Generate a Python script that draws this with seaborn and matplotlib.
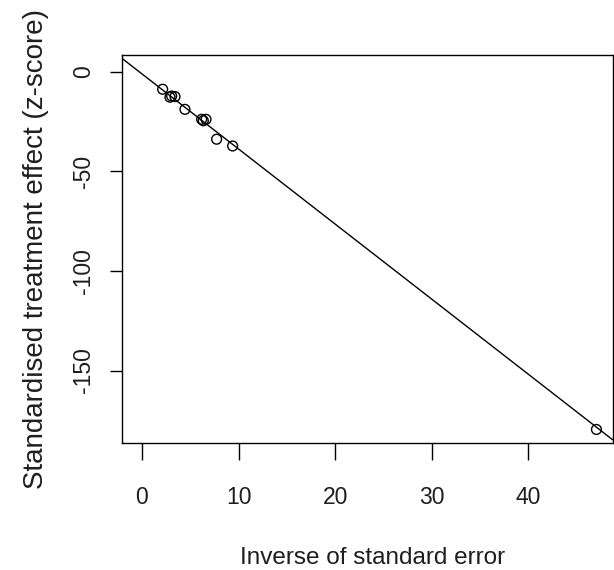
import matplotlib.pyplot as plt
import seaborn as sns
import pandas as pd

# Galbraith-style plot: z-score vs precision
inv_se = [2.14, 2.9, 3.07, 3.42, 4.45, 6.18, 6.35, 6.63, 7.73, 9.39, 47.07]
z_score = [-8.7, -12.7, -12.1, -12.4, -18.8, -23.8, -24.5, -23.8, -33.8, -37.2, -179.6]
fit_intercept = -1.0
fit_slope = -3.77

x_ticks = [0, 10, 20, 30, 40]
y_ticks = [0, -50, -100, -150]

sns.set_style("ticks")
plt.rcParams['font.family'] = ['Liberation Sans', 'DejaVu Sans']
plt.rcParams['axes.unicode_minus'] = False
txt = '#1e1e1e'

df = pd.DataFrame({'inv_se': inv_se, 'z': z_score})

fig = plt.figure(figsize=(6.14, 5.70), dpi=100)
ax = fig.add_axes([0.1987, 0.2228, 0.7993, 0.6807])

sns.scatterplot(data=df, x='inv_se', y='z', ax=ax, s=50, marker='o',
                facecolor='none', edgecolor='black', linewidth=1, zorder=3)
ax.axline((0, fit_intercept), slope=fit_slope, color='black', linewidth=1)

ax.set_xlim(-2.07, 48.76)
ax.set_ylim(-186.4, 8.5)
ax.set_xticks(x_ticks)
ax.set_yticks(y_ticks)
ax.set_yticklabels([str(v) for v in y_ticks], rotation=90, va='center')
ax.tick_params(axis='x', length=12, width=1, labelsize=16.5, pad=19,
               color='black', labelcolor=txt)
ax.tick_params(axis='y', length=9, width=1, labelsize=16.5, pad=10.5,
               color='black', labelcolor=txt)

for sp in ax.spines.values():
    sp.set_visible(True)
    sp.set_color('black')
    sp.set_linewidth(1)

ax.set_xlabel('Inverse of standard error', fontsize=17.5, color=txt)
ax.set_ylabel('Standardised treatment effect (z-score)', fontsize=20, color=txt)
ax.xaxis.set_label_coords(0.5104, -0.269)
ax.yaxis.set_label_coords(-0.1487, 0.5)

fig.savefig('out.png', dpi=100)
